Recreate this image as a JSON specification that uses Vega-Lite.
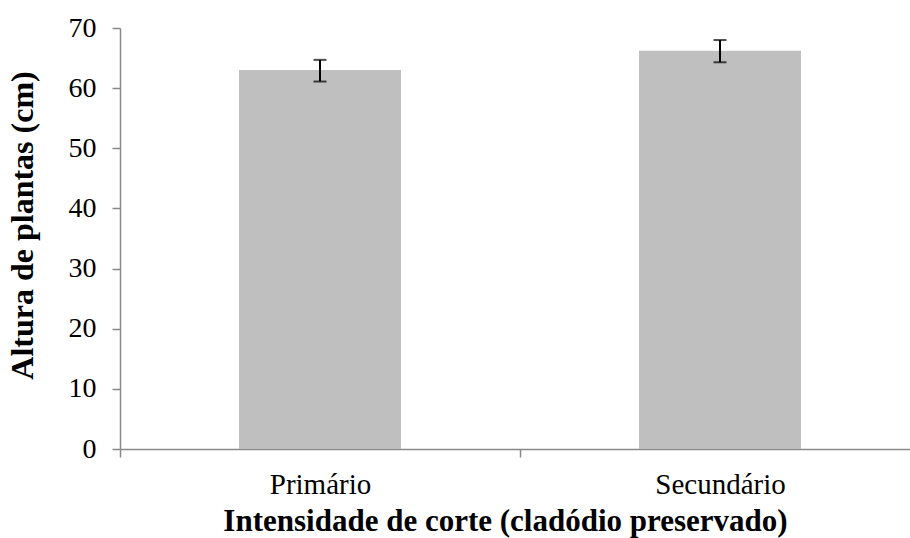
{
  "$schema": "https://vega.github.io/schema/vega-lite/v6.json",
  "autosize": {"type": "none"},
  "padding": {"left": 120, "top": 28, "right": 0, "bottom": 89},
  "width": 790,
  "height": 421,
  "background": "white",
  "config": {
    "view": {"stroke": null},
    "font": "Liberation Serif"
  },
  "data": {
    "values": [
      {"corte": "Primário", "altura": 63.0, "lo": 61.1, "hi": 64.7},
      {"corte": "Secundário", "altura": 66.2, "lo": 64.3, "hi": 68.0}
    ]
  },
  "encoding": {
    "x": {
      "field": "corte",
      "type": "nominal",
      "sort": null,
      "scale": {"type": "band", "range": [0, 800], "paddingInner": 0, "paddingOuter": 0},
      "axis": {
        "title": "Intensidade de corte (cladódio preservado)",
        "labelAngle": 0,
        "tickBand": "extent",
        "domainColor": "#898989",
        "tickColor": "#898989",
        "tickSize": 8,
        "domainWidth": 1.5,
        "tickWidth": 1.5,
        "labelFont": "Liberation Serif",
        "labelFontSize": 29,
        "labelColor": "black",
        "labelPadding": 13,
        "titleFont": "Liberation Serif",
        "titleFontSize": 31,
        "titleFontWeight": "bold",
        "titleColor": "black",
        "titlePadding": 7,
        "titleX": 385
      }
    }
  },
  "layer": [
    {
      "mark": {"type": "bar", "color": "#bfbfbf", "width": {"band": 0.405}},
      "encoding": {
        "y": {
          "field": "altura",
          "type": "quantitative",
          "scale": {"domain": [0, 70]},
          "axis": {
            "title": "Altura de plantas (cm)",
            "values": [0, 10, 20, 30, 40, 50, 60, 70],
            "grid": false,
            "domainColor": "#898989",
            "tickColor": "#898989",
            "tickSize": 8,
            "domainWidth": 1.5,
            "tickWidth": 1.5,
            "labelFont": "Liberation Serif",
            "labelFontSize": 28,
            "labelColor": "black",
            "labelPadding": 16,
            "titleFont": "Liberation Serif",
            "titleFontSize": 32,
            "titleFontWeight": "bold",
            "titleColor": "black",
            "titlePadding": 29,
            "titleY": 197
          }
        }
      }
    },
    {
      "mark": {"type": "rule", "color": "black", "strokeWidth": 2},
      "encoding": {
        "y": {"field": "lo", "type": "quantitative"},
        "y2": {"field": "hi"}
      }
    },
    {
      "mark": {"type": "tick", "color": "black", "size": 13, "thickness": 2},
      "encoding": {
        "y": {"field": "lo", "type": "quantitative"}
      }
    },
    {
      "mark": {"type": "tick", "color": "black", "size": 13, "thickness": 2},
      "encoding": {
        "y": {"field": "hi", "type": "quantitative"}
      }
    }
  ]
}
